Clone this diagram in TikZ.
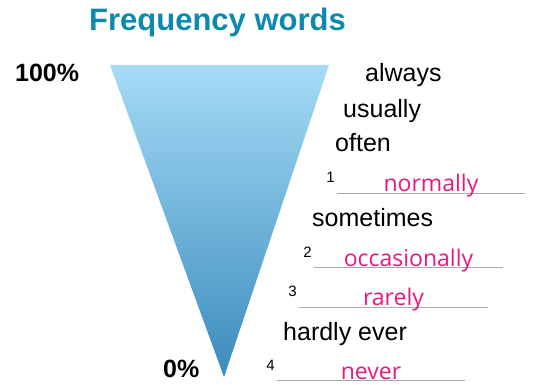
\documentclass[tikz,border=0pt]{standalone}
\usepackage{fontspec}
\setmainfont{Liberation Sans}
\newfontfamily\answerfont{Open Sans}
\usetikzlibrary{calc}

\definecolor{titleteal}{HTML}{0B8AAE}
\definecolor{answerpink}{HTML}{E5197F}
\definecolor{funneltop}{HTML}{A5DBF7}
\definecolor{funnelbottom}{HTML}{3B8BBC}
\definecolor{blankgray}{HTML}{AAAAAA}

\tikzset{
  word/.style={font=\fontsize{25}{30}\selectfont, inner sep=0pt, anchor=base west},
  answer/.style={font=\answerfont\fontsize{23}{28}\selectfont, text=answerpink, inner sep=0pt, anchor=base},
  num/.style={font=\fontsize{15}{17}\selectfont, inner sep=0pt, anchor=base east},
  pct/.style={font=\bfseries\fontsize{25}{29}\selectfont, inner sep=0pt, anchor=base west},
  blank/.style={draw=blankgray, line width=1pt},
}

\begin{document}
\begin{tikzpicture}[x=1pt, y=-1pt]
  \useasboundingbox (0,0) rectangle (533,385);
  % Title
  \node[font=\bfseries\fontsize{31}{36}\selectfont, text=titleteal, inner sep=0pt, anchor=base] (title) at (217.5,31) {Frequency words};
  % Funnel
  \coordinate (funnelL) at (110,65);
  \coordinate (funnelR) at (329,65);
  \coordinate (funnelA) at (224,377);
  \shade[top color=funneltop, bottom color=funnelbottom] (funnelL) -- (funnelR) -- (funnelA) -- cycle;
  \node[pct] (pcthigh) at (15,82) {100\%};
  \node[pct] (pctlow) at (163,377) {0\%};
  % Given words
  \node[word] (always) at (365,82) {always};
  \node[word] (usually) at (343,118) {usually};
  \node[word] (often) at (335,152) {often};
  \node[word] (sometimes) at (312,226) {sometimes};
  \node[word] (hardly) at (283,340) {hardly ever};
  % Blanks with answers
  \foreach \i/\xa/\xb/\y/\ans in {1/337/525/193/normally, 2/314/503/267.5/occasionally, 3/299/488/307/rarely, 4/277/465/380.5/never}{
    \coordinate (blank\i w) at (\xa,\y);
    \coordinate (blank\i e) at (\xb,\y);
    \draw[blank] (blank\i w) -- (blank\i e);
    \node[answer] (answer\i) at ($(blank\i w)!0.5!(blank\i e)+(0,-1.5)$) {\ans};
    \node[num] (num\i) at ($(blank\i w)+(-2,-10.5)$) {\i};
  }
\end{tikzpicture}
\end{document}
